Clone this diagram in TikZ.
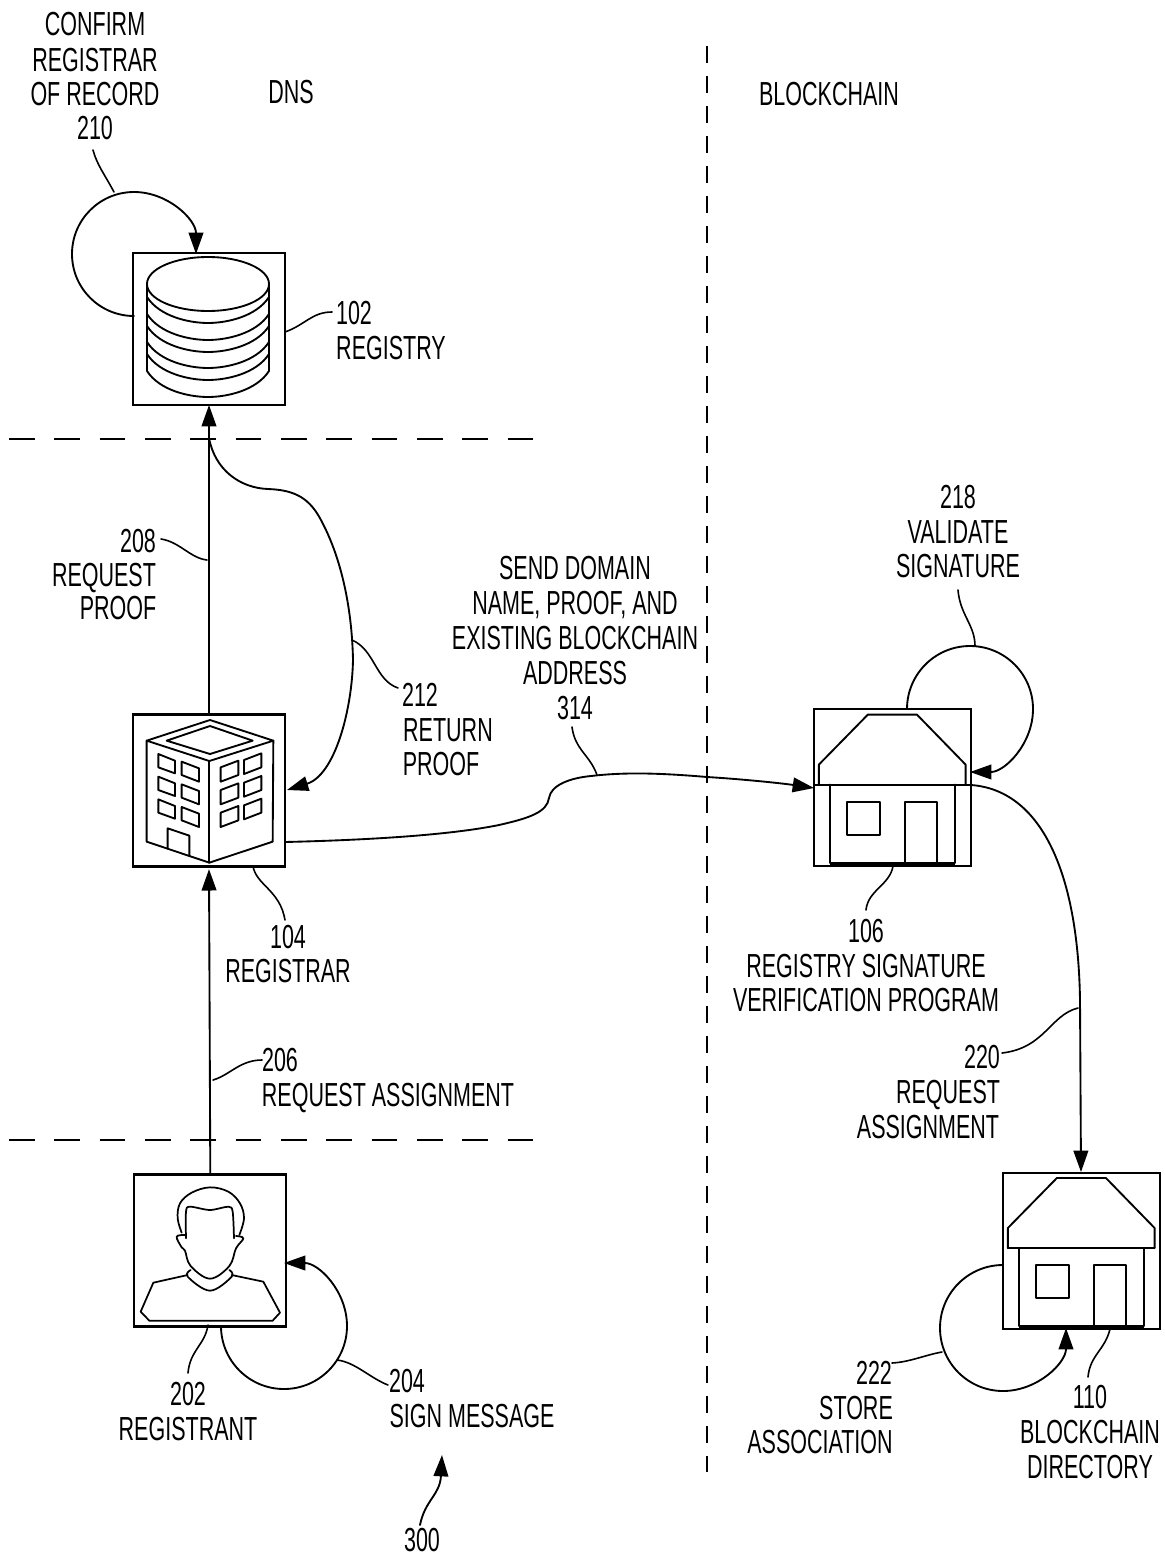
\documentclass[tikz,border=0pt]{standalone}
\usepackage{fontspec}
\setmainfont[FakeStretch=0.645]{Liberation Sans}
\usetikzlibrary{arrows.meta}
\tikzset{
  ln/.style={line width=1.4pt,line join=round,line cap=round},
  thin ln/.style={line width=1.3pt,line join=round,line cap=round},
  arr/.style={ln,-{Triangle[length=16pt,width=11pt]}},
  leader/.style={line width=1.2pt,line cap=round},
  box/.style={draw,line width=1.6pt,minimum size=114pt,inner sep=0pt,outer sep=0pt,fill=white},
  housebox/.style={box,minimum size=117.5pt},
  hsep/.style={line width=1.3pt,dash pattern=on 19.3pt off 14.7pt},
  vsep/.style={line width=1.3pt,dash pattern=on 13pt off 9.5pt},
  lbl/.style={inner sep=0pt,yshift=.75pt,text height=18pt,text depth=0pt,font=\fontsize{25}{27}\selectfont},
}
\newcommand{\househ}{% drawn in zoom-space relative to the box origin (0,0)
  \draw[ln] (15,227) -- (15,167) -- (162,17) -- (309,17) -- (455,167) -- (455,227);
  \draw[ln] (47,227) -- (47,462) -- (424,462) -- (424,227);
  \draw[ln] (100,279) rectangle (199,377);
  \draw[ln] (272,462) -- (272,279) -- (369,279) -- (369,462);
  \draw[line width=1.8pt] (47,465) -- (424,465);
}
\begin{document}
\begin{tikzpicture}[x=0.75pt,y=-0.75pt]
\useasboundingbox (0,0) rectangle (1164,1556);
% boxes
\node[box] (registry) at (209,329) {};
\node[box] (registrar) at (209,790.5) {};
\node[housebox] (sigprog) at (892.6,787.6) {};
\node[box] (registrant) at (210.3,1250.5) {};
\node[housebox] (directory) at (1081.6,1251) {};
% separators
\coordinate (h1a) at (9,439); \coordinate (h1b) at (533,439);
\coordinate (h2a) at (9,1140); \coordinate (h2b) at (533,1140);
\coordinate (v1a) at (706.7,46); \coordinate (v1b) at (706.7,1472);
\draw[hsep] (h1a) -- (h1b);
\draw[hsep] (h2a) -- (h2b);
\draw[vsep] (v1a) -- (v1b);
% registry cylinder
\draw[ln] (208,284) ellipse [x radius=61,y radius=27];
\draw[ln] (147,284) -- (147,371);
\draw[ln] (269,284) -- (269,371);
\foreach \yy in {323,340,352,368,380,397}{
  \draw[ln] (147,\yy-26) .. controls (160,\yy-6) and (190,\yy) .. (208,\yy) .. controls (226,\yy) and (256,\yy-6) .. (269,\yy-26);
}
% registrar building
\begin{scope}[shift={(100,690)},x=0.25pt,y=-0.25pt]
  \draw[ln] (330,90) -- (520,152) -- (328,213) -- (140,152) -- cycle;
  \draw[ln] (330,108) -- (458,152) -- (330,192) -- (200,152) -- cycle;
  \draw[ln] (140,152) -- (140,455) -- (328,518) -- (518,455) -- (520,152);
  \draw[ln] (328,213) -- (328,518);
  \foreach \r in {0,68,136}{
    \draw[ln] (175,192+\r) -- (225,212+\r) -- (225,250+\r) -- (175,232+\r) -- cycle;
    \draw[ln] (245,215+\r) -- (297,235+\r) -- (297,275+\r) -- (245,255+\r) -- cycle;
    \draw[ln] (362,232+\r) -- (415,212+\r) -- (415,255+\r) -- (362,275+\r) -- cycle;
    \draw[ln] (432,210+\r) -- (484,190+\r) -- (484,232+\r) -- (432,252+\r) -- cycle;
  }
  \draw[ln] (203,476) -- (203,415) -- (268,437) -- (268,498);
\end{scope}
% house 106
\begin{scope}[shift={(813.9,708.9)},x=0.25pt,y=-0.25pt]
  \househ
  \draw[ln] (0,227) -- (470,227);
\end{scope}
% house 110
\begin{scope}[shift={(1002.9,1172.3)},x=0.25pt,y=-0.25pt]
  \househ
  \draw[ln] (15,227) -- (455,227);
\end{scope}
% registrant person
\begin{scope}[shift={(110,1160)},x=0.25pt,y=-0.25pt]
  \draw[thin ln] plot[smooth,tension=.6] coordinates {(215,218) (203,175) (210,130) (245,98) (300,82) (355,95) (390,130) (402,175) (388,225)};
  \draw[thin ln] plot[smooth,tension=.5] coordinates {(228,235) (228,155) (240,140) (300,150) (355,140) (368,155) (372,235)};
  \draw[thin ln] plot[smooth,tension=.6] coordinates {(225,225) (200,230) (215,262) (225,272) (242,318) (300,356) (358,318) (378,265) (400,235) (378,228)};
  \draw[thin ln] plot[smooth,tension=.6] coordinates {(242,330) (233,350) (300,392) (365,350) (358,330)};
  \draw[thin ln] (233,345) -- (130,368) -- (92,455) -- (118,482) -- (488,482) -- (510,458) -- (460,365) -- (365,345);
\end{scope}
% vertical connectors
\draw[arr] (registrar.north) -- (registry.south);
\draw[arr] (registrant.north) -- ([yshift=-2pt]registrar.south);
% loops
\coordinate (l210) at (134,316);
\coordinate (l218) at (907,709);
\coordinate (l204) at (221,1326);
\coordinate (l222) at (1003,1265);
\draw[arr] (l210) arc[start angle=90,end angle=360,radius=62];
\draw[arr] (l218) arc[start angle=180,end angle=450,radius=63];
\draw[arr] (l204) arc[start angle=180,end angle=-90,radius=63];
\draw[arr] (l222) arc[start angle=-90,end angle=-360,radius=63];
% curved connectors
\coordinate (s212) at (209,438);
\coordinate (e212) at (287,790);
\draw[arr] (s212) .. controls (215,470) and (240,488) .. (268,489) .. controls (295,490) and (310,498) .. (322,522) .. controls (342,560) and (352,610) .. (353,660) .. controls (352,710) and (335,775) .. (e212);
\coordinate (s314) at (285,842);
\coordinate (e314) at (814,788);
\draw[arr] (s314) .. controls (370,840) and (450,835) .. (499,825) .. controls (530,818) and (547,812) .. (549,798) .. controls (551,785) and (570,778) .. (591,776) .. controls (625,772) and (660,773) .. (707,777) .. controls (740,779) and (780,783) .. (e314);
\coordinate (s220) at (971,785);
\coordinate (e220) at (1081,1172);
\draw[arr] (s220) .. controls (1040,790) and (1078,870) .. (1080,1000) -- (e220);
% arrow 300
\coordinate (s300) at (420,1525);
\coordinate (e300) at (442,1455);
\draw[arr] (s300) .. controls (425,1500) and (440,1495) .. (e300);
% leaders
\coordinate (a) at (114,192); \coordinate (b) at (93,150);
\draw[leader] (a) .. controls (105,175) and (97,165) .. (b);
\coordinate (a) at (285,332); \coordinate (b) at (332,312);
\draw[leader] (a) .. controls (305,325) and (312,312) .. (b);
\coordinate (a) at (207,560); \coordinate (b) at (161,539);
\draw[leader] (a) .. controls (190,558) and (180,542) .. (b);
\coordinate (a) at (352,640); \coordinate (b) at (398,688);
\draw[leader] (a) .. controls (375,650) and (375,680) .. (b);
\coordinate (a) at (597,775); \coordinate (b) at (572,727);
\draw[leader] (a) .. controls (590,755) and (575,750) .. (b);
\coordinate (a) at (253,866); \coordinate (b) at (285,920);
\draw[leader] (a) .. controls (256,885) and (280,890) .. (b);
\coordinate (a) at (975,646); \coordinate (b) at (958,590);
\draw[leader] (a) .. controls (975,625) and (960,615) .. (b);
\coordinate (a) at (893,866); \coordinate (b) at (866,910);
\draw[leader] (a) .. controls (890,885) and (868,890) .. (b);
\coordinate (a) at (1078,1008); \coordinate (b) at (1002,1053);
\draw[leader] (a) .. controls (1050,1015) and (1045,1048) .. (b);
\coordinate (a) at (213,1080); \coordinate (b) at (262,1060);
\draw[leader] (a) .. controls (230,1075) and (240,1060) .. (b);
\coordinate (a) at (208,1325); \coordinate (b) at (188,1373);
\draw[leader] (a) .. controls (205,1345) and (190,1350) .. (b);
\coordinate (a) at (337,1360); \coordinate (b) at (388,1385);
\draw[leader] (a) .. controls (355,1362) and (370,1378) .. (b);
\coordinate (a) at (942,1352); \coordinate (b) at (892,1363);
\draw[leader] (a) .. controls (925,1355) and (910,1362) .. (b);
\coordinate (a) at (1110,1329); \coordinate (b) at (1088,1377);
\draw[leader] (a) .. controls (1105,1350) and (1090,1355) .. (b);
% labels
\node[lbl] (t1) at (95,25) {CONFIRM};
\node[lbl] (t2) at (95,60) {REGISTRAR};
\node[lbl] (t3) at (95,94) {OF RECORD};
\node[lbl] (t4) at (95,128) {210};
\node[lbl] (t5) at (291,92) {DNS};
\node[lbl] (t6) at (829,94) {BLOCKCHAIN};
\node[lbl] (t7) at (354,313) {102};
\node[lbl] (t8) at (391,348) {REGISTRY};
\node[lbl] (t9) at (138,541) {208};
\node[lbl] (t10) at (104,575) {REQUEST};
\node[lbl] (t11) at (118,608) {PROOF};
\node[lbl] (t12) at (575,568) {SEND DOMAIN};
\node[lbl] (t13) at (575,603) {NAME, PROOF, AND};
\node[lbl] (t14) at (575,638) {EXISTING BLOCKCHAIN};
\node[lbl] (t15) at (575,673) {ADDRESS};
\node[lbl] (t16) at (575,708) {314};
\node[lbl] (t17) at (420,695) {212};
\node[lbl] (t18) at (448,730) {RETURN};
\node[lbl] (t19) at (441,764) {PROOF};
\node[lbl] (t20) at (958,497) {218};
\node[lbl] (t21) at (958,532) {VALIDATE};
\node[lbl] (t22) at (958,566) {SIGNATURE};
\node[lbl] (t23) at (288,937) {104};
\node[lbl] (t24) at (288,971) {REGISTRAR};
\node[lbl] (t25) at (866,931) {106};
\node[lbl] (t26) at (866,966) {REGISTRY SIGNATURE};
\node[lbl] (t27) at (866,1000) {VERIFICATION PROGRAM};
\node[lbl] (t28) at (280,1060) {206};
\node[lbl] (t29) at (388,1095) {REQUEST ASSIGNMENT};
\node[lbl] (t30) at (982,1057) {220};
\node[lbl] (t31) at (948,1092) {REQUEST};
\node[lbl] (t32) at (928,1127) {ASSIGNMENT};
\node[lbl] (t33) at (188,1394) {202};
\node[lbl] (t34) at (188,1429) {REGISTRANT};
\node[lbl] (t35) at (407,1381) {204};
\node[lbl] (t36) at (472,1416) {SIGN MESSAGE};
\node[lbl] (t37) at (874,1373) {222};
\node[lbl] (t38) at (856,1408) {STORE};
\node[lbl] (t39) at (820,1442) {ASSOCIATION};
\node[lbl] (t40) at (1090,1397) {110};
\node[lbl] (t41) at (1090,1432) {BLOCKCHAIN};
\node[lbl] (t42) at (1090,1467) {DIRECTORY};
\node[lbl] (t43) at (422,1540) {300};
\end{tikzpicture}
\end{document}
